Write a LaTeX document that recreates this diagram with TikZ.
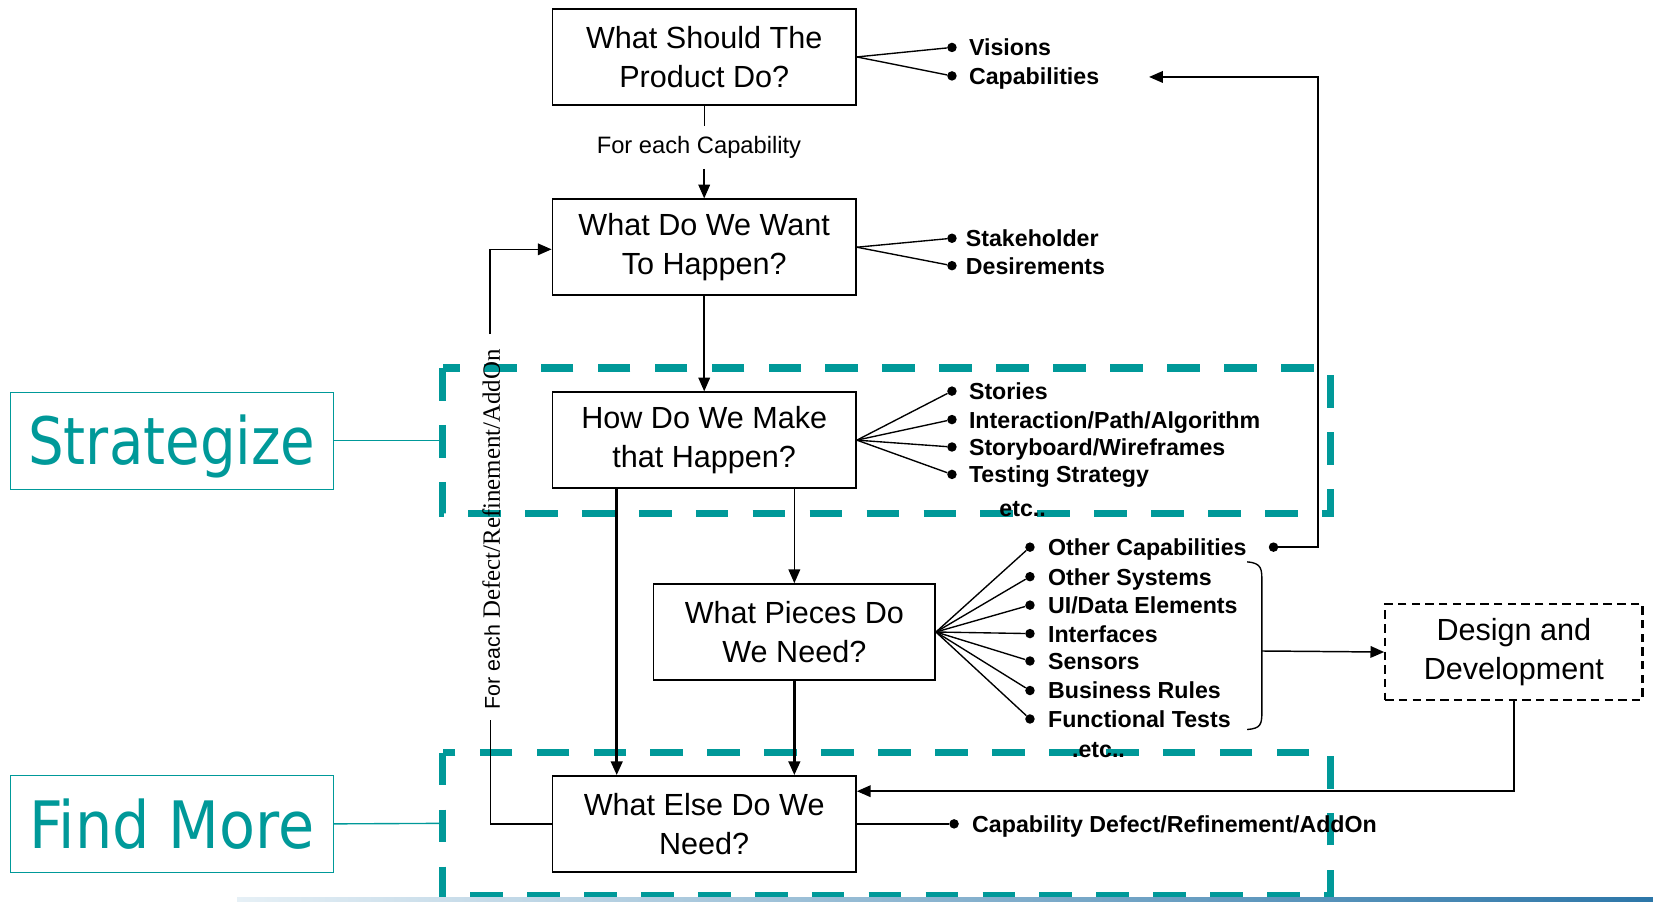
\documentclass[tikz,border=0pt]{standalone}
\usepackage{fontspec}
\usepackage{graphicx}
\setmainfont{Liberation Sans}
\newfontfamily\seriffam{Liberation Serif}
\newfontfamily\tealfam{DejaVu Sans}
\usetikzlibrary{arrows.meta}
\definecolor{tealc}{HTML}{009999}
\definecolor{barL}{HTML}{E6F0F6}
\definecolor{barR}{HTML}{2C76A8}
\begin{document}
\begin{tikzpicture}[x=1pt,y=-1pt,
  box/.style={draw,line width=1.6pt,minimum width=288pt,minimum height=91pt,align=center,
    font=\fontsize{29}{37}\selectfont,inner sep=0pt},
  lbl/.style={anchor=base west,font=\bfseries\fontsize{22}{26}\selectfont,inner sep=0pt},
  dotn/.style={circle,fill,inner sep=0pt,minimum size=9pt},
  ln/.style={line width=1.3pt},
  arr/.style={line width=1.4pt,-{Triangle[length=13pt,width=11pt]}},
  arrthick/.style={line width=2.4pt,-{Triangle[length=13pt,width=11pt]}},
  tealdash/.style={draw=tealc,line width=7pt,dash pattern=on 31pt off 23pt},
  tealbox/.style={draw=tealc,line width=1.2pt,minimum width=306pt,minimum height=92pt,inner sep=0pt},
  tealtxt/.style={anchor=base,text=tealc,inner sep=0pt,font=\tealfam\fontsize{62}{62}\selectfont},
]
\useasboundingbox (0,0) rectangle (1568,855);
\fill[white] (0,0) rectangle (1568,855);

% teal dashed regions
\draw[tealdash] (420,349) rectangle (1262,487);
\draw[tealdash] (420,714) rectangle (1262,850);

% bottom bar
\shade[left color=barL,right color=barR] (225,851) rectangle (1568,855);

% teal side boxes
\node[tealbox] (st) at (163,418) {};
\node[tealtxt] (stt) at (163,441) {\scalebox{0.86}[1]{Strategize}};
\node[tealbox] (fm) at (163,781.5) {};
\node[tealtxt] (fmt) at (163,805) {\scalebox{0.9}[1]{Find More}};
\coordinate (stE) at (420,418);
\coordinate (fmE) at (420,781);
\draw[tealc,line width=1.3pt] (st.east) -- (stE);
\draw[tealc,line width=1.3pt] (fm.east) -- (fmE);

% main boxes
\node[box] (b1) at (668,54) {What Should The\\Product Do?};
\node[box] (b2) at (668,234.5) {What Do We Want\\To Happen?};
\node[box] (b3) at (668,417.5) {How Do We Make\\that Happen?};
\node[box,minimum width=267pt] (b4) at (753.5,599.5) {What Pieces Do\\We Need?};
\node[box] (b5) at (668,781.5) {What Else Do We\\Need?};
\node[box,dash pattern=on 8pt off 5pt,line width=2pt,minimum width=244pt] (dd) at (1436,618.5) {Design and\\Development};

% for each capability
\node[inner sep=0pt,minimum height=40pt,font=\fontsize{22.5}{26}\selectfont] (fec) at (663,140) {For each Capability};
\draw[ln] (b1.south) -- (b1.south |- fec.north);
\draw[arr] (b2.north |- fec.south) -- (b2.north);

% vertical flow
\draw[arr] (b2.south) -- (b3.north);
\draw[arrthick] ([xshift=-83pt]b3.south) -- ([xshift=-83pt]b5.north);
\draw[arr] (b4.north |- b3.south) -- (b4.north);
\draw[arrthick] (b4.south) -- (b4.south |- b5.north);

% labels box1
\node[dotn] (d11) at (903,45) {};
\node[dotn] (d12) at (903,72) {};
\node[lbl] (l11) at (919,53) {Visions};
\node[lbl] (l12) at (919,80) {Capabilities};
\draw[ln] (b1.east) -- (d11);
\draw[ln] (b1.east) -- (d12);

% labels box2
\node[dotn] (d21) at (903,226) {};
\node[dotn] (d22) at (903,252) {};
\node[lbl] (l21) at (916,234) {Stakeholder};
\node[lbl] (l22) at (916,260) {Desirements};
\draw[ln] (b2.east) -- (d21);
\draw[ln] (b2.east) -- (d22);

% labels box3
\foreach \i/\yy/\t in {1/371/{Stories},2/398/{Interaction/Path/Algorithm},3/424/{Storyboard/Wireframes},4/450/{Testing Strategy}}{
  \node[dotn] (d3\i) at (903,\yy) {};
  \node[lbl] (l3\i) at (919,\yy+8) {\t};
  \draw[ln] (b3.east) -- (d3\i);
}
\node[lbl,anchor=base] (e3) at (970,490) {etc..};

% labels box4
\foreach \i/\yy/\t in {1/519/{Other Capabilities},2/547/{Other Systems},3/574/{UI/Data Elements},4/601/{Interfaces},5/627/{Sensors},6/655/{Business Rules},7/682/{Functional Tests}}{
  \node[dotn] (d4\i) at (977,\yy) {};
  \node[lbl] (l4\i) at (994,\yy+8) {\t};
  \draw[ln] (b4.east) -- (d4\i);
}
\node[lbl,anchor=base] (e4) at (1042,719) {.etc..};

% other capabilities return
\node[dotn] (oc) at (1208,519) {};
\coordinate (capret) at (1090,73);
\draw[arr] (oc) -- ++(42,0) |- (capret);

% brace to design
\draw[ln] (1183,533) .. controls (1197,534) and (1197,540) .. (1197,552) -- (1197,675) .. controls (1197,687) and (1196,691) .. (1183,692);
\coordinate (br) at (1197,617.5);
\draw[arr] (br) -- (dd.west);

% design back to box5
\draw[arr] (dd.south) |- ([yshift=31pt]b5.east);

% box5 label
\node[dotn] (d51) at (905,781.5) {};
\node[lbl] (l51) at (922,789.5) {Capability Defect/Refinement/AddOn};
\draw[ln] (b5.east) -- (d51);

% loop back
\node[rotate=90,inner sep=0pt] (vt) at (466,502) {\fontsize{20.3}{24}\selectfont For each {\seriffam\fontsize{23.6}{28}\selectfont Defect/Refinement/AddOn}};
\coordinate (lp1) at (465,683);
\coordinate (lp2) at (465,317);
\draw[ln] (b5.west) -| (lp1);
\draw[arr] (lp2) |- ([yshift=-2pt]b2.west);
\end{tikzpicture}
\end{document}
